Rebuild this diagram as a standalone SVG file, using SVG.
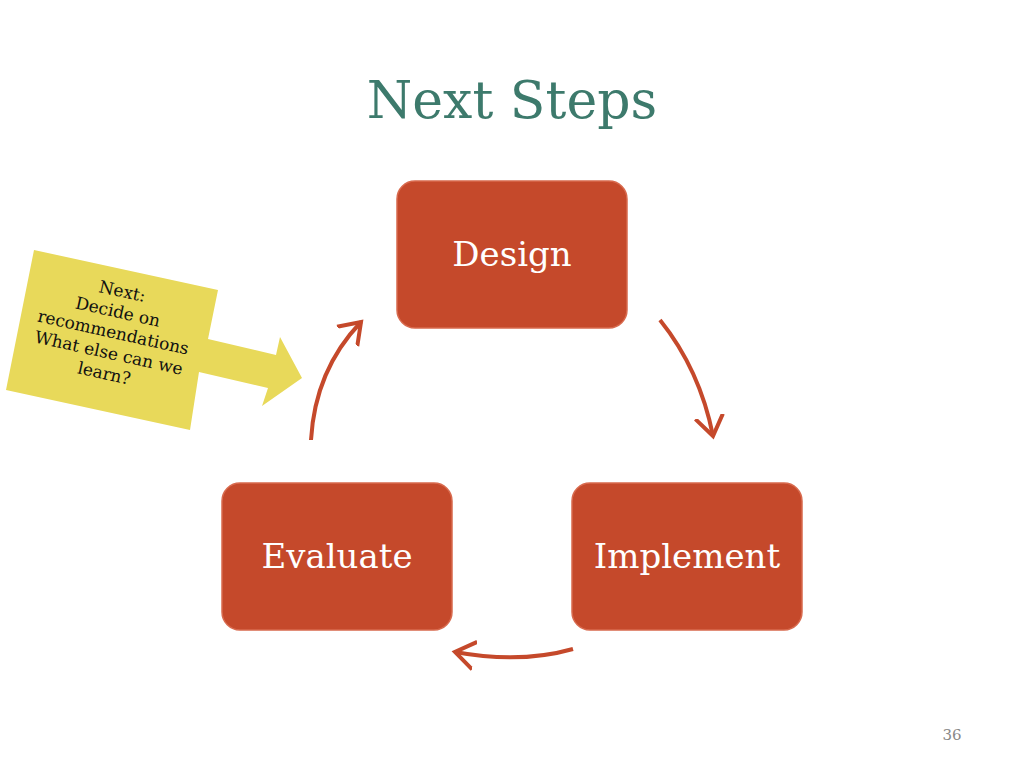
<svg xmlns="http://www.w3.org/2000/svg" width="1024" height="768" viewBox="0 0 1024 768">
<style>
.box{fill:#c5492b;stroke:#d86a4e;stroke-width:1.5}
.lbl{font-family:"DejaVu Serif","Liberation Serif",serif;font-size:34px;fill:#fff;text-anchor:middle}
.arc{fill:none;stroke:#c5492b;stroke-width:4}
.co{font-family:"DejaVu Serif","Liberation Serif",serif;font-size:17px;fill:#111;text-anchor:middle}
</style>
<defs><marker id="ah" markerWidth="8" markerHeight="8" refX="5" refY="4" orient="auto" markerUnits="strokeWidth"><path d="M0,0.5 L5,4 L0,7.5" fill="none" stroke="#c5492b" stroke-width="1"/></marker></defs>
<rect width="1024" height="768" fill="#fff"/>
<text x="512" y="118" font-family="DejaVu Serif,Liberation Serif,serif" font-size="52" fill="#3d7a6c" text-anchor="middle">Next Steps</text>
<g id="design"><rect class="box" x="397" y="181" width="230" height="147" rx="18"/><text class="lbl" x="512" y="266">Design</text></g>
<g id="implement"><rect class="box" x="572" y="483" width="230" height="147" rx="18"/><text class="lbl" x="687" y="568">Implement</text></g>
<g id="evaluate"><rect class="box" x="222" y="483" width="230" height="147" rx="18"/><text class="lbl" x="337" y="568">Evaluate</text></g>
<g id="connectors">
<path class="arc" d="M660,320 Q700,370 713,436" marker-end="url(#ah)"/>
<path class="arc" d="M573,649 Q520,664 455,652" marker-end="url(#ah)"/>
<path class="arc" d="M311,440 Q315,370 361,322" marker-end="url(#ah)"/>
</g>
<g id="callout">
<polygon points="34,250 218,290 208,339 276,355 280,337 302,378 262,406 268,388 199,372 190,430 6,390" fill="#e8d95a"/>
<g transform="rotate(12.5 112 338)" class="co">
<text x="112" y="296">Next:</text>
<text x="112" y="317">Decide on</text>
<text x="112" y="338">recommendations</text>
<text x="112" y="359">What else can we</text>
<text x="112" y="380">learn?</text>
</g>
</g>
<text x="952" y="740" font-family="DejaVu Serif,Liberation Serif,serif" font-size="15" fill="#888" text-anchor="middle">36</text>
</svg>
